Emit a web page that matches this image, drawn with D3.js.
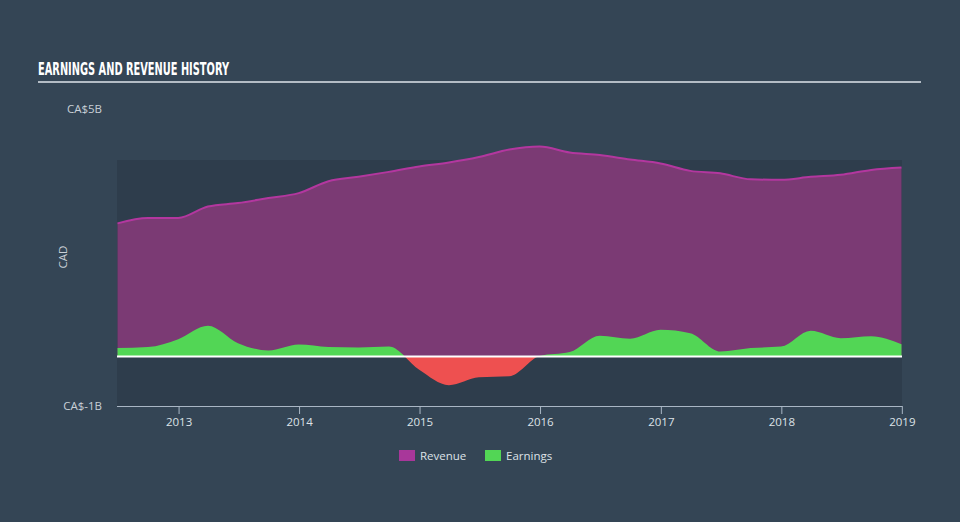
<!DOCTYPE html>
<html>
<head>
<meta charset="utf-8">
<script src="https://cdn.jsdelivr.net/npm/d3@7"></script>
<style>
  html, body { margin: 0; padding: 0; background: #344555; }
  svg { display: block; }
</style>
</head>
<body>
<svg id="chart" width="960" height="522"></svg>
<script>
// ---- data (CAD, billions) ----
const dates = ["2012-06-30","2012-09-30","2012-12-31","2013-03-31","2013-06-30","2013-09-30","2013-12-31",
  "2014-03-31","2014-06-30","2014-09-30","2014-12-31","2015-03-31","2015-06-30","2015-09-30","2015-12-31",
  "2016-03-31","2016-06-30","2016-09-30","2016-12-31","2017-03-31","2017-06-30","2017-09-30","2017-12-31",
  "2018-03-31","2018-06-30","2018-09-30","2018-12-31"];
const revenue = [2.69,2.80,2.80,3.03,3.10,3.20,3.30,3.54,3.63,3.73,3.84,3.92,4.03,4.18,4.24,
  4.12,4.07,3.98,3.90,3.75,3.70,3.58,3.57,3.63,3.67,3.77,3.82];
const earnings = [0.17,0.19,0.35,0.62,0.27,0.12,0.24,0.19,0.18,0.20,-0.27,-0.58,-0.42,-0.40,0.01,
  0.09,0.42,0.36,0.54,0.47,0.10,0.17,0.20,0.52,0.37,0.41,0.25];
const xTickLabels = ["2013","2014","2015","2016","2017","2018","2019"];
const yTickLabels = [{ v: 5, label: "CA$5B" }, { v: -1, label: "CA$-1B" }];
const seriesNames = ["Revenue", "Earnings"];
const title = "EARNINGS AND REVENUE HISTORY";
const yTitle = "CAD";

// ---- setup ----
const parse = d3.timeParse("%Y-%m-%d");
const data = dates.map((d, i) => ({ date: parse(d), rev: revenue[i], earn: earnings[i] }));
const svg = d3.select("#chart");

const plot = { left: 117, right: 902, top: 160, bottom: 406 };
const x = d3.scaleTime().domain([parse("2012-06-30"), parse("2018-12-31")]).range([117.5, 901.5]);
const y = d3.scaleLinear().domain([-1, 5]).range([406, 109]);

// title
svg.append("text").attr("x", 38).attr("y", 75)
  .attr("fill", "#ffffff")
  .attr("font-family", "'Liberation Sans Narrow', 'DejaVu Sans Condensed', sans-serif")
  .attr("font-weight", "bold").attr("font-size", 17)
  .attr("textLength", 191).attr("lengthAdjust", "spacingAndGlyphs")
  .text(title);
svg.append("rect").attr("x", 38).attr("y", 81).attr("width", 883).attr("height", 2).attr("fill", "#b3bcc5");

// plot background
svg.append("rect").attr("x", plot.left).attr("y", plot.top)
  .attr("width", plot.right - plot.left).attr("height", plot.bottom - plot.top)
  .attr("fill", "#2e3d4c");

const curve = d3.curveMonotoneX;

// revenue
svg.append("path").datum(data)
  .attr("d", d3.area().x(d => x(d.date)).y0(y(0)).y1(d => y(d.rev)).curve(curve))
  .attr("fill", "#7b3a74");
svg.append("path").datum(data)
  .attr("d", d3.line().x(d => x(d.date)).y(d => y(d.rev)).curve(curve))
  .attr("fill", "none").attr("stroke", "#b3379f").attr("stroke-width", 2);

// earnings with clip above/below zero
const defs = svg.append("defs");
defs.append("clipPath").attr("id", "clipPos").append("rect")
  .attr("x", plot.left).attr("y", plot.top).attr("width", plot.right - plot.left).attr("height", y(0) - plot.top);
defs.append("clipPath").attr("id", "clipNeg").append("rect")
  .attr("x", plot.left).attr("y", y(0)).attr("width", plot.right - plot.left).attr("height", plot.bottom - y(0));
const earnArea = d3.area().x(d => x(d.date)).y0(y(0)).y1(d => y(d.earn)).curve(curve);
svg.append("path").datum(data).attr("d", earnArea).attr("fill", "#52d655").attr("clip-path", "url(#clipPos)");
svg.append("path").datum(data).attr("d", earnArea).attr("fill", "#ee5050").attr("clip-path", "url(#clipNeg)");

// zero line
svg.append("line").attr("x1", plot.left).attr("x2", plot.right).attr("y1", y(0)).attr("y2", y(0))
  .attr("stroke", "#ffffff").attr("stroke-width", 2);

// x axis
const xAxis = d3.axisBottom(x)
  .tickValues(xTickLabels.map(t => parse(t + "-01-01")))
  .tickFormat(d3.timeFormat("%Y"))
  .tickSize(8).tickSizeOuter(0).tickPadding(4);
const gx = svg.append("g").attr("transform", `translate(0,${plot.bottom})`).call(xAxis);
gx.select(".domain").attr("stroke", "#a9b6c4").attr("d", `M${plot.left},0.5H${plot.right}`);
gx.selectAll(".tick line").attr("stroke", "#a9b6c4");
gx.selectAll(".tick text").attr("fill", "#dde2e7").attr("font-size", 11.5)
  .attr("font-family", "'Open Sans', sans-serif");

// y labels
svg.selectAll(".ylab").data(yTickLabels).enter().append("text")
  .attr("class", "ylab")
  .attr("x", 102).attr("y", d => y(d.v)).attr("dy", "0.35em")
  .attr("text-anchor", "end").attr("fill", "#c9d0d7")
  .attr("font-family", "'Open Sans', sans-serif").attr("font-size", 11.5)
  .text(d => d.label);
svg.append("text").attr("transform", "translate(67,257) rotate(-90)")
  .attr("text-anchor", "middle").attr("fill", "#c9d0d7")
  .attr("font-family", "'Open Sans', sans-serif").attr("font-size", 11.5)
  .text(yTitle);

// legend
const legendColors = ["#a8379a", "#52d655"];
const legendX = [399, 485];
const lg = svg.selectAll(".lg").data(seriesNames).enter().append("g")
  .attr("transform", (d, i) => `translate(${legendX[i]},450)`);
lg.append("rect").attr("width", 16).attr("height", 11).attr("fill", (d, i) => legendColors[i]);
lg.append("text").attr("x", 21).attr("y", 5.5).attr("dy", "0.35em")
  .attr("fill", "#dde2e7").attr("font-family", "'Open Sans', sans-serif").attr("font-size", 11.5)
  .text(d => d);
</script>
</body>
</html>
